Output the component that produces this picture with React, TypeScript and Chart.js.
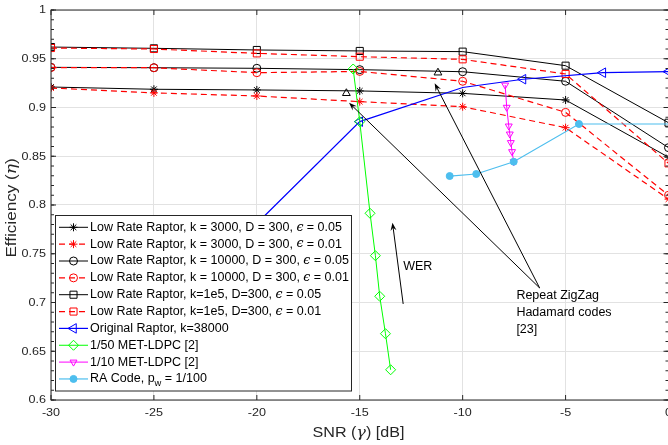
import React, { useEffect, useRef } from 'react';
import { Chart, registerables } from 'chart.js';
import { drawPoint } from 'chart.js/helpers';

Chart.register(...registerables);

// ---------------- data ----------------
const xTickValues = [-30, -25, -20, -15, -10, -5, 0];
const xTickLabels = ['-30', '-25', '-20', '-15', '-10', '-5', '0'];
const yTickValues = [0.6, 0.65, 0.7, 0.75, 0.8, 0.85, 0.9, 0.95, 1];
const yTickLabels = ['0.6', '0.65', '0.7', '0.75', '0.8', '0.85', '0.9', '0.95', '1'];

const snrRaptor = [-30, -25, -20, -15, -10, -5, 0];
const lrK3000e05 = [0.921, 0.9187, 0.918, 0.917, 0.9145, 0.9077, 0.849];
const lrK3000e01 = [0.920, 0.915, 0.9118, 0.906, 0.9008, 0.8793, 0.806];
const lrK10000e05 = [0.9412, 0.9408, 0.9402, 0.9388, 0.9367, 0.9269, 0.8588];
const lrK10000e01 = [0.941, 0.9408, 0.9357, 0.937, 0.9269, 0.895, 0.81];
const lrK1e5e05 = [0.962, 0.9607, 0.959, 0.958, 0.9573, 0.9429, 0.8844];
const lrK1e5e01 = [0.961, 0.960, 0.9555, 0.9521, 0.9494, 0.9344, 0.8427];

const snrOriginal = [-25, -20, -15, -10, -7.07, -3.19, 0];
const effOriginal = [0.677, 0.781, 0.8855, 0.9205, 0.929, 0.9357, 0.9368];
const markOriginal = [1, 1, 1, 0, 1, 1, 1];

const snrMet50 = [-15.32, -15.0, -14.5, -14.24, -14.03, -13.75, -13.5];
const effMet50 = [0.9395, 0.8855, 0.7915, 0.748, 0.7064, 0.668, 0.631];

const snrMet10 = [-7.935, -7.86, -7.76, -7.71, -7.66, -7.6, -7.52];
const effMet10 = [0.923, 0.9002, 0.881, 0.8728, 0.864, 0.8547, 0.8444];

const snrRA = [-10.63, -9.34, -7.52, -4.35, 0];
const effRA = [0.8297, 0.8318, 0.8444, 0.8831, 0.8831];
const markRA = [1, 1, 1, 1, 0];

const snrZigZag = [-15.65, -11.2];
const effZigZag = [0.9146, 0.9357];

const legendLabels = [
  'Low Rate Raptor, k = 3000, D = 300, ϵ = 0.05',
  'Low Rate Raptor, k = 3000, D = 300, ϵ = 0.01',
  'Low Rate Raptor, k = 10000, D = 300, ϵ = 0.05',
  'Low Rate Raptor, k = 10000, D = 300, ϵ = 0.01',
  'Low Rate Raptor, k=1e5, D=300, ϵ = 0.05',
  'Low Rate Raptor, k=1e5, D=300, ϵ = 0.01',
  'Original Raptor, k=38000',
  '1/50 MET-LDPC [2]',
  '1/10 MET-LDPC [2]',
  'RA Code, p_w = 1/100',
];

const zigzagText = ['Repeat ZigZag', 'Hadamard codes', '[23]'];
const werText = 'WER';
// annotation anchors in data units
const zigzagTail = { x: -6.26, y: 0.7149 };
const zigzagHeads = [{ x: -15.52, y: 0.9049 }, { x: -11.36, y: 0.9248 }];
const zigzagTextPos = { x: -7.39, y: 0.7067 };
const werTail = { x: -12.89, y: 0.6985 };
const werHead = { x: -13.41, y: 0.7818 };
const werTextPos = { x: -12.89, y: 0.737 };

// ---------------- styles ----------------
type Style = { color: string; dash: number[]; style: string; r: number; rot: number; filled: boolean; width: number };
const styles: Style[] = [
  { color: '#000000', dash: [], style: 'star', r: 4, rot: 0, filled: false, width: 1 },
  { color: '#ff0000', dash: [6, 4], style: 'star', r: 4, rot: 0, filled: false, width: 1.2 },
  { color: '#000000', dash: [], style: 'circle', r: 4, rot: 0, filled: false, width: 1 },
  { color: '#ff0000', dash: [6, 4], style: 'circle', r: 4, rot: 0, filled: false, width: 1.2 },
  { color: '#000000', dash: [], style: 'rect', r: 5, rot: 0, filled: false, width: 1 },
  { color: '#ff0000', dash: [6, 4], style: 'rect', r: 5, rot: 0, filled: false, width: 1.2 },
  { color: '#0000ff', dash: [], style: 'triangle', r: 5.5, rot: -90, filled: false, width: 1.2 },
  { color: '#00ff00', dash: [], style: 'rectRot', r: 5, rot: 0, filled: false, width: 1 },
  { color: '#ff00ff', dash: [], style: 'triangle', r: 4, rot: 180, filled: false, width: 1 },
  { color: '#4DBEEE', dash: [], style: 'circle', r: 3.5, rot: 0, filled: true, width: 1.2 },
];

const SANS = '"Liberation Sans", Arial, Helvetica, sans-serif';
const SERIF = '"DejaVu Serif", "Liberation Serif", serif';

type Seg = { t: string; italic?: boolean; serif?: boolean; sub?: boolean };

function parseLabel(s: string): Seg[] {
  const out: Seg[] = [];
  let buf = '';
  for (let i = 0; i < s.length; i++) {
    const c = s[i];
    if (c === 'ϵ' || c === 'η' || c === 'γ') {
      if (buf) out.push({ t: buf });
      buf = '';
      out.push({ t: c, italic: true, serif: true });
    } else if (c === '_' && i + 1 < s.length) {
      if (buf) out.push({ t: buf });
      buf = '';
      out.push({ t: s[i + 1], sub: true });
      i++;
    } else buf += c;
  }
  if (buf) out.push({ t: buf });
  return out;
}

function drawRich(
  ctx: CanvasRenderingContext2D, text: string, x: number, y: number, size: number, sx: number,
  align: 'left' | 'center' | 'right', color: string, rot = 0,
) {
  const segs = parseLabel(text);
  ctx.save();
  ctx.translate(x, y);
  if (rot) ctx.rotate(rot);
  ctx.scale(sx, 1);
  ctx.fillStyle = color;
  ctx.textBaseline = 'middle';
  ctx.textAlign = 'left';
  const fontOf = (s: Seg) => {
    const sz = s.sub ? size * 0.75 : size;
    return `${s.italic ? 'italic ' : ''}${sz}px ${s.serif ? SERIF : SANS}`;
  };
  let total = 0;
  const widths = segs.map((s) => {
    ctx.font = fontOf(s);
    const w = ctx.measureText(s.t).width;
    total += w;
    return w;
  });
  let cx = align === 'left' ? 0 : align === 'center' ? -total / 2 : -total;
  segs.forEach((s, i) => {
    ctx.font = fontOf(s);
    ctx.fillText(s.t, cx, s.sub ? size * 0.38 : 0);
    cx += widths[i];
  });
  ctx.restore();
}

function arrow(ctx: CanvasRenderingContext2D, x0: number, y0: number, x1: number, y1: number) {
  const ang = Math.atan2(y1 - y0, x1 - x0);
  const L = 8, W = 3;
  ctx.beginPath();
  ctx.moveTo(x0, y0);
  ctx.lineTo(x1 - Math.cos(ang) * 4, y1 - Math.sin(ang) * 4);
  ctx.stroke();
  ctx.beginPath();
  ctx.moveTo(x1, y1);
  ctx.lineTo(x1 - Math.cos(ang) * L - Math.sin(ang) * W, y1 - Math.sin(ang) * L + Math.cos(ang) * W);
  ctx.lineTo(x1 - Math.cos(ang) * (L - 3), y1 - Math.sin(ang) * (L - 3));
  ctx.lineTo(x1 - Math.cos(ang) * L + Math.sin(ang) * W, y1 - Math.sin(ang) * L - Math.cos(ang) * W);
  ctx.closePath();
  ctx.fill();
}

function makeSet(label: string, xs: number[], ys: number[], st: Style, idx: number, marks?: number[]) {
  return {
    label,
    data: xs.map((x, i) => ({ x, y: ys[i] })),
    showLine: true,
    borderColor: st.color,
    borderWidth: st.width,
    borderDash: st.dash,
    pointStyle: st.style,
    pointRotation: st.rot,
    pointRadius: marks ? marks.map((m) => (m ? st.r : 0)) : st.r,
    pointBorderColor: st.color,
    pointBackgroundColor: st.filled ? st.color : 'rgba(0,0,0,0)',
    pointBorderWidth: 1,
    tension: 0,
    fill: false,
    order: -idx,
    clip: 0,
  };
}

const decorPlugin = {
  id: 'decor',
  afterDraw(chart: any) {
    const { ctx, chartArea: a, scales } = chart;
    const xs = scales.x, ys = scales.y;
    const X = (v: number) => xs.getPixelForValue(v);
    const Y = (v: number) => ys.getPixelForValue(v);
    ctx.save();

    // annotations
    ctx.strokeStyle = '#000';
    ctx.fillStyle = '#000';
    ctx.lineWidth = 1;
    zigzagHeads.forEach((h) => arrow(ctx, X(zigzagTail.x), Y(zigzagTail.y), X(h.x), Y(h.y)));
    arrow(ctx, X(werTail.x), Y(werTail.y), X(werHead.x), Y(werHead.y));
    drawRich(ctx, werText, X(werTextPos.x), Y(werTextPos.y), 12.5, 1, 'left', '#000');
    zigzagText.forEach((t, i) => drawRich(ctx, t, X(zigzagTextPos.x), Y(zigzagTextPos.y) + i * 16.8, 12.5, 1, 'left', '#000'));

    // axes box
    ctx.strokeStyle = '#262626';
    ctx.lineWidth = 1;
    ctx.strokeRect(a.left, a.top, a.right - a.left, a.bottom - a.top);
    ctx.beginPath();
    xTickValues.forEach((v) => {
      const p = X(v);
      ctx.moveTo(p, a.bottom); ctx.lineTo(p, a.bottom - 5);
      ctx.moveTo(p, a.top); ctx.lineTo(p, a.top + 5);
    });
    yTickValues.forEach((v) => {
      const p = Y(v);
      ctx.moveTo(a.left, p); ctx.lineTo(a.left + 5, p);
      ctx.moveTo(a.right, p); ctx.lineTo(a.right - 5, p);
    });
    for (let i = 0; i <= 40; i++) {
      const p = Y(0.6 + i * 0.01);
      ctx.moveTo(a.left, p); ctx.lineTo(a.left + 3, p);
      ctx.moveTo(a.right, p); ctx.lineTo(a.right - 3, p);
    }
    ctx.stroke();

    // tick labels
    xTickValues.forEach((v, i) => drawRich(ctx, xTickLabels[i], X(v), a.bottom + 13.5, 10.5, 1.2, 'center', '#262626'));
    yTickValues.forEach((v, i) => drawRich(ctx, yTickLabels[i], a.left - 5, Y(v) + 0.5, 10.5, 1.2, 'right', '#262626'));

    // axis titles
    drawRich(ctx, 'SNR (γ) [dB]', (a.left + 666) / 2, a.bottom + 33, 14, 1.15, 'center', '#262626');
    drawRich(ctx, 'Efficiency (η)', 12, (a.top + a.bottom) / 2 + 3, 14, 1.22, 'center', '#262626', -Math.PI / 2);

    // legend
    const L = 55.5, T = 215.5, W = 296, H = 175.5;
    ctx.fillStyle = '#ffffff';
    ctx.fillRect(L, T, W, H);
    ctx.strokeStyle = '#262626';
    ctx.lineWidth = 1;
    ctx.strokeRect(L, T, W, H);
    legendLabels.forEach((lab, i) => {
      const st = styles[i];
      const y = 227.3 + i * 16.85;
      ctx.save();
      ctx.strokeStyle = st.color;
      ctx.lineWidth = st.width;
      ctx.setLineDash(st.dash);
      ctx.lineDashOffset = 0;
      ctx.beginPath();
      ctx.moveTo(59, y); ctx.lineTo(88, y);
      ctx.stroke();
      ctx.setLineDash([]);
      ctx.lineWidth = 1;
      ctx.fillStyle = st.filled ? st.color : 'rgba(0,0,0,0)';
      drawPoint(ctx, { pointStyle: st.style as any, rotation: st.rot, radius: st.r, borderWidth: 1 } as any, 73.5, y);
      ctx.restore();
      drawRich(ctx, lab, 90, y, 12.5, 1, 'left', '#000');
    });

    ctx.restore();
  },
};

export default function App() {
  const ref = useRef<HTMLCanvasElement | null>(null);
  useEffect(() => {
    if (!ref.current) return;
    const datasets: any[] = [
      makeSet(legendLabels[0], snrRaptor, lrK3000e05, styles[0], 0),
      makeSet(legendLabels[1], snrRaptor, lrK3000e01, styles[1], 1),
      makeSet(legendLabels[2], snrRaptor, lrK10000e05, styles[2], 2),
      makeSet(legendLabels[3], snrRaptor, lrK10000e01, styles[3], 3),
      makeSet(legendLabels[4], snrRaptor, lrK1e5e05, styles[4], 4),
      makeSet(legendLabels[5], snrRaptor, lrK1e5e01, styles[5], 5),
      makeSet(legendLabels[6], snrOriginal, effOriginal, styles[6], 6, markOriginal),
      makeSet(legendLabels[7], snrMet50, effMet50, styles[7], 7),
      makeSet(legendLabels[8], snrMet10, effMet10, styles[8], 8),
      makeSet(legendLabels[9], snrRA, effRA, styles[9], 9, markRA),
      {
        label: 'Repeat ZigZag Hadamard codes [23]',
        data: snrZigZag.map((x, i) => ({ x, y: effZigZag[i] })),
        showLine: false,
        pointStyle: 'triangle',
        pointRadius: 4.5,
        pointBorderColor: '#000',
        pointBackgroundColor: 'rgba(0,0,0,0)',
        pointBorderWidth: 1,
        order: -10,
      },
    ];
    const chart = new Chart(ref.current, {
      type: 'scatter',
      data: { datasets },
      options: {
        animation: false,
        responsive: false,
        events: [],
        layout: { padding: { left: 0, right: 11.5, top: 10, bottom: 0 } },
        plugins: { legend: { display: false }, tooltip: { enabled: false } },
        scales: {
          x: {
            type: 'linear', min: -30, max: 0,
            afterBuildTicks: (s: any) => { s.ticks = xTickValues.map((v) => ({ value: v })); },
            afterFit: (s: any) => { s.height = 45; },
            ticks: { display: false },
            grid: { color: '#e2e2e2', drawTicks: false, lineWidth: 1 },
            border: { display: false },
          },
          y: {
            type: 'linear', min: 0.6, max: 1,
            afterBuildTicks: (s: any) => { s.ticks = yTickValues.map((v) => ({ value: v })); },
            afterFit: (s: any) => { s.width = 51; },
            ticks: { display: false },
            grid: { color: '#e2e2e2', drawTicks: false, lineWidth: 1 },
            border: { display: false },
          },
        },
      } as any,
      plugins: [decorPlugin],
    });
    return () => chart.destroy();
  }, []);
  return (
    <div style={{ position: 'fixed', left: 0, top: 0, width: 668, height: 445, overflow: 'hidden', background: '#fff' }}>
      <canvas ref={ref} width={680} height={445} style={{ width: 680, height: 445, display: 'block' }} />
    </div>
  );
}
